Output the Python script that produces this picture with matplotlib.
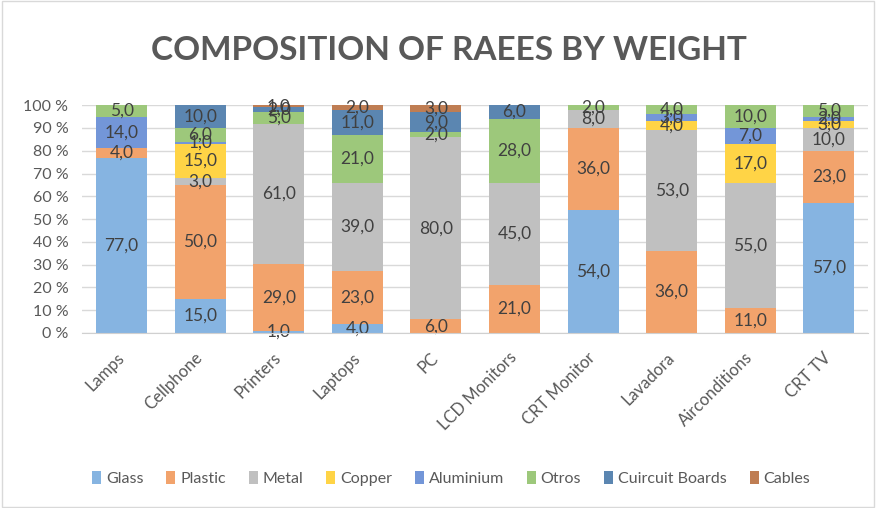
import matplotlib
matplotlib.use("Agg")
import matplotlib.pyplot as plt
import numpy as np
from matplotlib.patches import Rectangle

categories = ["Lamps", "Cellphone", "Printers", "Laptops", "PC", "LCD Monitors",
              "CRT Monitor", "Lavadora", "Airconditions", "CRT TV"]
series_names = ["Glass", "Plastic", "Metal", "Copper", "Aluminium", "Otros",
                "Cuircuit Boards", "Cables"]
glass     = [77, 15, 1, 4, 0, 0, 54, 0, 0, 57]
plastic   = [4, 50, 29, 23, 6, 21, 36, 36, 11, 23]
metal     = [0, 3, 61, 39, 80, 45, 8, 53, 55, 10]
copper    = [0, 15, 0, 0, 0, 0, 0, 4, 17, 3]
aluminium = [14, 1, 0, 0, 0, 0, 0, 3, 7, 2]
otros     = [5, 6, 5, 21, 2, 28, 2, 4, 10, 5]
circuit   = [0, 10, 2, 11, 9, 6, 0, 0, 0, 0]
cables    = [0, 0, 1, 2, 3, 0, 0, 0, 0, 0]
yticks = [0, 10, 20, 30, 40, 50, 60, 70, 80, 90, 100]

colors = ["#86b4e1", "#f2a36c", "#c0c0c0", "#ffd446", "#7396d8", "#9dc87b",
          "#5b86b1", "#bf7d53"]

data = np.array([glass, plastic, metal, copper, aluminium, otros, circuit, cables], dtype=float)
totals = data.sum(axis=0)
pct = data / totals * 100

plt.rcParams['font.family'] = ['Lato', 'DejaVu Sans']
fig = plt.figure(figsize=(8.76, 5.08), dpi=100)
ax = fig.add_axes([0.094, 0.3445, 0.897, 0.4485])
x = np.arange(len(categories))
bottom = np.zeros(len(categories))
for i, name in enumerate(series_names):
    ax.bar(x, pct[i], 0.65, bottom=bottom, color=colors[i], label=name, zorder=2)
    for j in range(len(categories)):
        if data[i, j] > 0:
            ax.text(x[j], bottom[j] + pct[i, j] / 2, f"{data[i, j]:.1f}".replace(".", ","),
                    ha="center", va="center", fontsize=12.5, color="#404040", zorder=3)
    bottom += pct[i]

ax.set_xlim(-0.5, len(categories) - 0.5)
ax.set_ylim(0, 100)
ax.set_yticks(yticks)
ax.set_yticklabels([f"{t} %" for t in yticks], fontsize=11.5, color="#595959")
ax.set_xticks(x)
ax.set_xticklabels(categories, rotation=45, ha="right", va="center",
                   rotation_mode="anchor", fontsize=12, color="#595959")
ax.tick_params(axis="y", length=0, pad=10)
ax.tick_params(axis="x", length=0, pad=16)
ax.yaxis.grid(True, color="#d9d9d9", linewidth=1, zorder=0)
for s in ["top", "right", "left"]:
    ax.spines[s].set_visible(False)
ax.spines["bottom"].set_color("#d0d0d0")
ax.spines["bottom"].set_zorder(4)

fig.text(0.512, 0.9, "COMPOSITION OF RAEES BY WEIGHT", ha="center", va="center",
         fontsize=24, fontweight="bold", color="#595959")

handles, labels = ax.get_legend_handles_labels()
leg = fig.legend(handles, labels, loc="center", bbox_to_anchor=(0.515, 0.058), ncol=8,
                 frameon=False, fontsize=11.5, handlelength=0.55, handleheight=0.9,
                 handletextpad=0.3, columnspacing=1.45)
for t in leg.get_texts():
    t.set_color("#595959")

fig.patches.append(Rectangle((0.002, 0.002), 0.996, 0.996, transform=fig.transFigure,
                             fill=False, edgecolor="#d9d9d9", linewidth=1))
fig.savefig("out.png", dpi=100)
